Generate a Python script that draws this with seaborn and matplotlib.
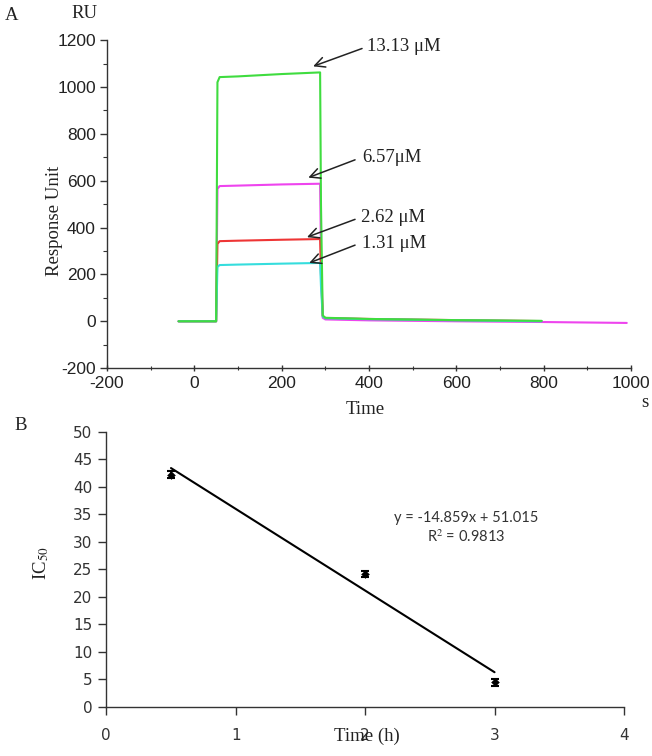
import matplotlib
matplotlib.use("Agg")
import matplotlib.pyplot as plt
import seaborn as sns
import pandas as pd
import numpy as np
from matplotlib.ticker import MultipleLocator

# ---------------- data: panel A (sensorgram) ----------------
t_common = [-36, 50, 53, 58, 100, 200, 288, 290, 294, 300, 400, 600, 795]
t_magenta = [-36, 50, 53, 58, 100, 200, 288, 290, 294, 300, 400, 600, 795, 990]
ru_13_13 = [0, 0, 1020, 1042, 1045, 1055, 1062, 500, 25, 15, 10, 5, 2]
ru_6_57 = [0, 0, 565, 577, 579, 584, 587, 300, 15, 8, 4, 0, -3, -7]
ru_2_62 = [0, 0, 330, 342, 344, 348, 351, 200, 22, 14, 10, 5, 1]
ru_1_31 = [0, 0, 232, 240, 242, 246, 249, 150, 20, 13, 9, 4, 0]
conc_labels = ["13.13 \u03bcM", "6.57\u03bcM", "2.62 \u03bcM", "1.31 \u03bcM"]
conc_colors = ["#3fdc3f", "#ee44ee", "#ee3535", "#35dddd"]
# annotation text / arrow positions (data coords)
label_pos = [(395, 1172), (384, 698), (382, 444), (384, 333)]
arrow_tail = [(384, 1164), (368, 689), (368, 435), (368, 325)]
arrow_tip = [(272, 1088), (261, 613), (258, 359), (263, 249)]

# ---------------- data: panel B (IC50 vs time) ----------------
time_h = [0.5, 2.0, 3.0]
ic50 = [42.2, 24.2, 4.5]
ic50_err = [0.6, 0.6, 0.6]
eq_text = "y = -14.859x + 51.015"
r2_text = "R$^2$ = 0.9813"

sns.set_style("ticks")
plt.rcParams["mathtext.fontset"] = "stix"
plt.rcParams["axes.unicode_minus"] = False
SERIF = "Liberation Serif"

fig = plt.figure(figsize=(6.52, 7.56), dpi=100)
ax1 = fig.add_axes([0.164, 0.513, 0.804, 0.434])
ax2 = fig.add_axes([0.163, 0.0648, 0.794, 0.364])

# ---- panel A ----
series = {
    conc_labels[0]: (t_common, ru_13_13),
    conc_labels[1]: (t_magenta, ru_6_57),
    conc_labels[2]: (t_common, ru_2_62),
    conc_labels[3]: (t_common, ru_1_31),
}
rows = []
for lab, (tt, vv) in series.items():
    for a, b in zip(tt, vv):
        rows.append({"t": a, "RU": b, "conc": lab})
dfA = pd.DataFrame(rows)
palette = dict(zip(conc_labels, conc_colors))
draw_order = [conc_labels[1], conc_labels[2], conc_labels[3], conc_labels[0]]
sns.lineplot(data=dfA, x="t", y="RU", hue="conc", hue_order=draw_order,
             palette=palette, estimator=None, sort=False, legend=False,
             linewidth=1.5, ax=ax1)

for lab, tp, tail, tip in zip(conc_labels, label_pos, arrow_tail, arrow_tip):
    ax1.text(tp[0], tp[1], lab, ha="left", va="center", fontsize=13.5,
             family=SERIF, color="#222222")
    ax1.annotate("", xy=tip, xytext=tail,
                 arrowprops=dict(arrowstyle="->", color="#222222", lw=1.1,
                                 mutation_scale=18, shrinkA=0, shrinkB=0))

ax1.set_xlim(-200, 1000)
ax1.set_ylim(-200, 1200)
ax1.xaxis.set_major_locator(MultipleLocator(200))
ax1.xaxis.set_minor_locator(MultipleLocator(100))
ax1.yaxis.set_major_locator(MultipleLocator(200))
ax1.yaxis.set_minor_locator(MultipleLocator(100))
ax1.tick_params(axis="both", which="major", length=5, width=1, color="#333333",
                labelsize=12.5, pad=3)
ax1.tick_params(axis="both", which="minor", length=3, width=0.8, color="#333333")
ax1.tick_params(axis="x", which="both", direction="inout")
for lbl in ax1.get_xticklabels() + ax1.get_yticklabels():
    lbl.set_family("Liberation Sans")
    lbl.set_color("#222222")
for s in ["top", "right"]:
    ax1.spines[s].set_visible(False)
for s in ["left", "bottom"]:
    ax1.spines[s].set_color("#333333")
    ax1.spines[s].set_linewidth(1.0)
ax1.set_xlabel("Time", family=SERIF, fontsize=13.5, color="#222222", va="center")
ax1.xaxis.set_label_coords(0.492, -0.125)
ax1.set_ylabel("Response Unit", family=SERIF, fontsize=13.5, color="#222222",
               va="center")
ax1.yaxis.set_label_coords(-0.1, 0.45)

# ---- panel B ----
dfB = pd.DataFrame({"time_h": time_h, "ic50": ic50, "err": ic50_err})
ax2.errorbar(dfB["time_h"], dfB["ic50"], yerr=dfB["err"], fmt="none",
             ecolor="black", elinewidth=1.2, capsize=3, capthick=1.5, zorder=3)
sns.scatterplot(data=dfB, x="time_h", y="ic50", marker="D", s=16,
                color="black", edgecolor="black", ax=ax2, zorder=4)
sns.regplot(data=dfB, x="time_h", y="ic50", ci=None, scatter=False,
            truncate=True, color="black", line_kws=dict(lw=1.5), ax=ax2)

ax2.text(2.78, 34.4, eq_text, ha="center", va="center", fontsize=10.5,
         family="Lato", color="#333333")
ax2.text(2.78, 30.9, r2_text, ha="center", va="center", fontsize=10.5,
         family="Lato", color="#333333")

ax2.set_xlim(0, 4)
ax2.set_ylim(0, 50)
ax2.xaxis.set_major_locator(MultipleLocator(1))
ax2.yaxis.set_major_locator(MultipleLocator(5))
ax2.tick_params(axis="both", which="major", length=6, width=1, color="#333333",
                labelsize=11, pad=4, direction="out")
ax2.tick_params(axis="x", which="major", pad=9)
for lbl in ax2.get_xticklabels() + ax2.get_yticklabels():
    lbl.set_family("DejaVu Sans")
    lbl.set_color("#333333")
for s in ["top", "right"]:
    ax2.spines[s].set_visible(False)
for s in ["left", "bottom"]:
    ax2.spines[s].set_color("#333333")
    ax2.spines[s].set_linewidth(1.0)
ax2.set_xlabel("Time (h)", family=SERIF, fontsize=13.5, color="#222222",
               va="center")
ax2.xaxis.set_label_coords(0.504, -0.107)
ax2.set_ylabel("IC$_{50}$", family=SERIF, fontsize=13.5, color="#222222",
               va="center")
ax2.yaxis.set_label_coords(-0.125, 0.524)

# ---- panel letters / units ----
fig.text(12 / 652, 1 - 15 / 756, "A", family=SERIF, fontsize=13.5,
         ha="center", va="center", color="#222222")
fig.text(85 / 652, 1 - 13 / 756, "RU", family=SERIF, fontsize=13.5,
         ha="center", va="center", color="#222222")
fig.text(21 / 652, 1 - 425 / 756, "B", family=SERIF, fontsize=13.5,
         ha="center", va="center", color="#222222")
fig.text(645 / 652, 1 - 403 / 756, "s", family=SERIF, fontsize=13.5,
         ha="center", va="center", color="#222222")

fig.savefig("out.png", dpi=100)
